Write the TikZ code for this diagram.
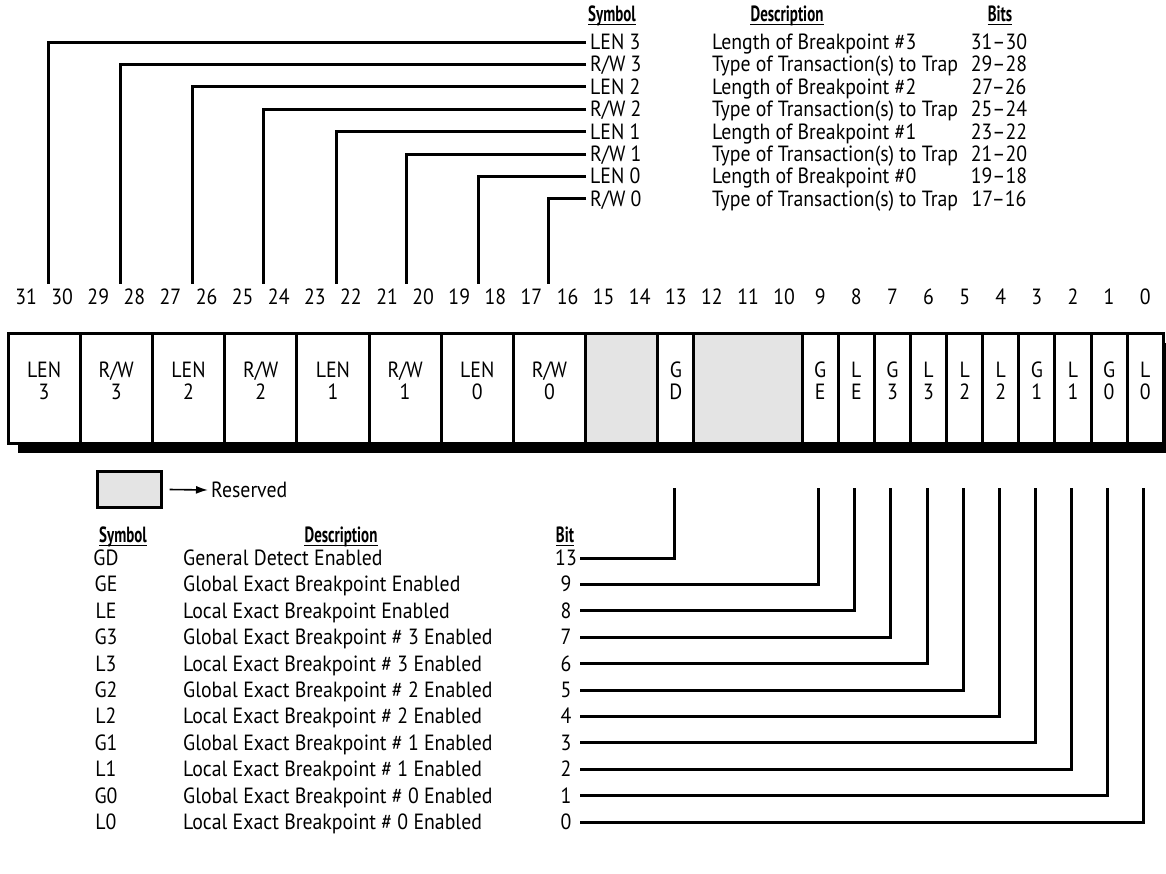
\documentclass[tikz,border=0pt]{standalone}
\usepackage{fontspec}
\setmainfont{PT Sans}[FakeStretch=0.9]
\newfontfamily\hdfont{PT Sans}[FakeStretch=0.68]
\usetikzlibrary{arrows.meta}
\definecolor{resgray}{HTML}{E4E4E4}
\newcommand{\fs}{\fontsize{22}{22}\selectfont}
\begin{document}
\begin{tikzpicture}[x=1pt,y=-1pt,font=\fs,
  lead/.style={line width=3pt},
  fieldbox/.style={draw,line width=3pt,fill=white,minimum height=110pt,inner sep=0pt},
  resbox/.style={fieldbox,fill=resgray},
  ftxt/.style={align=center,inner sep=0pt},
  lt/.style={anchor=west,inner sep=0pt,text height=15pt,text depth=0pt},
  ct/.style={anchor=center,inner sep=0pt,text height=15pt,text depth=0pt},
  hd/.style={inner sep=0pt,text height=15pt,text depth=0pt,font=\fs\hdfont\bfseries,
    append after command={([yshift=-2.5pt]\tikzlastnode.south west) edge[line width=1.3pt] ([yshift=-2.5pt]\tikzlastnode.south east)}},
  num/.style={inner sep=0pt,text height=15pt,text depth=0pt}]
\useasboundingbox (0,0) rectangle (1166,873);
% ---------- top table ----------
\node[hd] (thS) at (612,14) {Symbol};
\node[hd] (thD) at (787,14) {Description};
\node[hd] (thB) at (1000,14) {Bits};
\node[lt] (ts0) at (590,42)  {LEN 3};
\node[lt] (ts1) at (590,64.4) {R/W 3};
\node[lt] (ts2) at (590,86.8) {LEN 2};
\node[lt] (ts3) at (590,109.2) {R/W 2};
\node[lt] (ts4) at (590,131.6) {LEN 1};
\node[lt] (ts5) at (590,154) {R/W 1};
\node[lt] (ts6) at (590,176.4) {LEN 0};
\node[lt] (ts7) at (590,198.8) {R/W 0};
\node[lt] (td0) at (712,42)  {Length of Breakpoint \#3};
\node[lt] (td1) at (712,64.4) {Type of Transaction(s) to Trap};
\node[lt] (td2) at (712,86.8) {Length of Breakpoint \#2};
\node[lt] (td3) at (712,109.2) {Type of Transaction(s) to Trap};
\node[lt] (td4) at (712,131.6) {Length of Breakpoint \#1};
\node[lt] (td5) at (712,154) {Type of Transaction(s) to Trap};
\node[lt] (td6) at (712,176.4) {Length of Breakpoint \#0};
\node[lt] (td7) at (712,198.8) {Type of Transaction(s) to Trap};
\node[ct] (tb0) at (999,42)  {31--30};
\node[ct] (tb1) at (999,64.4) {29--28};
\node[ct] (tb2) at (999,86.8) {27--26};
\node[ct] (tb3) at (999,109.2) {25--24};
\node[ct] (tb4) at (999,131.6) {23--22};
\node[ct] (tb5) at (999,154) {21--20};
\node[ct] (tb6) at (999,176.4) {19--18};
\node[ct] (tb7) at (999,198.8) {17--16};
% free ends of the top leaders
\coordinate (tc0) at (48,284);
\coordinate (tc1) at (120,284);
\coordinate (tc2) at (192,284);
\coordinate (tc3) at (263,284);
\coordinate (tc4) at (336,284);
\coordinate (tc5) at (406,284);
\coordinate (tc6) at (478,284);
\coordinate (tc7) at (548,284);
\foreach \i in {0,...,7}{
  \draw[lead] ([xshift=-4pt]ts\i.west) -| (tc\i);
}
% ---------- bit numbers ----------
\foreach \b in {0,...,31}{
  \node[num] (bn\b) at ({8+(31-\b)*36.1+18.05},297) {\b};
}
% ---------- register ----------
\fill (18,343) rectangle (1174,453);
\node[fieldbox,minimum width=72.2pt]  (f31) at (44.1,388) {};
\node[fieldbox,minimum width=72.2pt]  (f29) at (116.3,388) {};
\node[fieldbox,minimum width=72.2pt]  (f27) at (188.5,388) {};
\node[fieldbox,minimum width=72.2pt]  (f25) at (260.7,388) {};
\node[fieldbox,minimum width=72.2pt]  (f23) at (332.9,388) {};
\node[fieldbox,minimum width=72.2pt]  (f21) at (405.1,388) {};
\node[fieldbox,minimum width=72.2pt]  (f19) at (477.3,388) {};
\node[fieldbox,minimum width=72.2pt]  (f17) at (549.5,388) {};
\node[resbox,minimum width=72.2pt]    (f15) at (621.7,388) {};
\node[fieldbox,minimum width=36.1pt]  (f13) at (675.85,388) {};
\node[resbox,minimum width=108.3pt]   (f12) at (748.05,388) {};
\node[fieldbox,minimum width=36.1pt]  (f9) at (820.25,388) {};
\node[fieldbox,minimum width=36.1pt]  (f8) at (856.35,388) {};
\node[fieldbox,minimum width=36.1pt]  (f7) at (892.45,388) {};
\node[fieldbox,minimum width=36.1pt]  (f6) at (928.55,388) {};
\node[fieldbox,minimum width=36.1pt]  (f5) at (964.65,388) {};
\node[fieldbox,minimum width=36.1pt]  (f4) at (1000.75,388) {};
\node[fieldbox,minimum width=36.1pt]  (f3) at (1036.85,388) {};
\node[fieldbox,minimum width=36.1pt]  (f2) at (1072.95,388) {};
\node[fieldbox,minimum width=36.1pt]  (f1) at (1109.05,388) {};
\node[fieldbox,minimum width=36.1pt]  (f0) at (1145.15,388) {};
\foreach \f/\t in {f31/{LEN\\3},f29/{R/W\\3},f27/{LEN\\2},f25/{R/W\\2},f23/{LEN\\1},f21/{R/W\\1},f19/{LEN\\0},f17/{R/W\\0},f13/{G\\D},f9/{G\\E},f8/{L\\E},f7/{G\\3},f6/{L\\3},f5/{L\\2},f4/{L\\2},f3/{G\\1},f2/{L\\1},f1/{G\\0},f0/{L\\0}}{
  \node[ftxt] (\f t) at ([yshift=7pt]\f.center) {\t};
}
% ---------- legend ----------
\node[draw,line width=2.2pt,fill=resgray,minimum width=64pt,minimum height=36pt,inner sep=0pt] (leg) at (129.5,489.5) {};
\node[lt] (legt) at (211,490) {Reserved};
\draw[line width=1.6pt,-{Latex[length=12pt,width=8pt]}] ([xshift=7pt]leg.east) -- ([xshift=-3pt]legt.west);
% ---------- bottom table ----------
\node[hd] (bhS) at (123,535) {Symbol};
\node[hd] (bhD) at (341,535) {Description};
\node[hd] (bhB) at (565,535) {Bit};
\foreach \i/\s/\d/\n/\fb in {
 0/GD/General Detect Enabled/13/f13,
 1/GE/Global Exact Breakpoint Enabled/9/f9,
 2/LE/Local Exact Breakpoint Enabled/8/f8,
 3/G3/Global Exact Breakpoint \# 3 Enabled/7/f7,
 4/L3/Local Exact Breakpoint \# 3 Enabled/6/f6,
 5/G2/Global Exact Breakpoint \# 2 Enabled/5/f5,
 6/L2/Local Exact Breakpoint \# 2 Enabled/4/f4,
 7/G1/Global Exact Breakpoint \# 1 Enabled/3/f3,
 8/L1/Local Exact Breakpoint \# 1 Enabled/2/f2,
 9/G0/Global Exact Breakpoint \# 0 Enabled/1/f1,
 10/L0/Local Exact Breakpoint \# 0 Enabled/0/f0}{
  \node[ct] (bs\i) at (106,{558+26.4*\i}) {\s};
  \node[lt] (bd\i) at (183,{558+26.4*\i}) {\d};
  \node[ct] (bb\i) at (566,{558+26.4*\i}) {\n};
  \coordinate (bc\i) at ([xshift=-1.5pt]\fb.center |- 0,488);
  \draw[lead] ([xshift=14pt]bb\i.center) -| (bc\i);
}
\end{tikzpicture}
\end{document}
